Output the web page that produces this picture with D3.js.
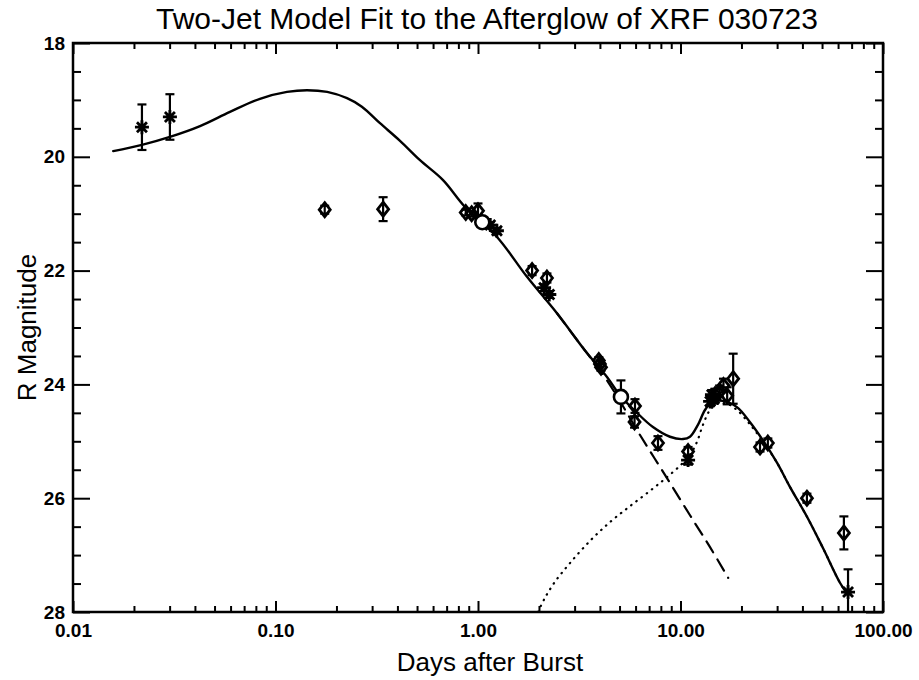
<!DOCTYPE html>
<html>
<head>
<meta charset="utf-8">
<script src="https://cdn.jsdelivr.net/npm/d3@7"></script>
<style>
  body { margin: 0; background: #fff; }
  text { font-family: 'Liberation Sans', Arial, Helvetica, sans-serif; fill: #000; }
</style>
</head>
<body>
<svg id="chart" width="919" height="680"></svg>
<script>
/****************************************************************
    Data (days after burst, R magnitude, error)
/****************************************************************/
const asteriskDays = [0.0219, 0.0301, 1.15, 1.24, 2.12, 2.25, 10.9, 14.0, 14.3, 14.7, 67.2]
const asteriskMag = [19.48, 19.3, 21.2, 21.3, 22.3, 22.42, 25.33, 24.3, 24.18, 24.25, 27.65]
const asteriskErr = [0.4, 0.4, 0.05, 0.05, 0.06, 0.06, 0.08, 0.08, 0.08, 0.08, 0.4]

const diamondDays = [0.175, 0.34, 0.87, 0.93, 1.0, 1.85, 2.19, 3.95, 4.0, 4.05, 5.96, 5.93, 7.74,
  10.9, 14.8, 15.6, 16.3, 17.0, 18.2, 24.7, 27.0, 42.1, 64.1]
const diamondMag = [20.93, 20.92, 20.98, 21.0, 20.95, 22.0, 22.13, 23.58, 23.64, 23.7, 24.38, 24.66, 25.03,
  25.18, 24.18, 24.12, 24.02, 24.2, 23.9, 25.1, 25.03, 26.0, 26.61]
const diamondErr = [0.07, 0.21, 0.05, 0.05, 0.13, 0.08, 0.08, 0.06, 0.06, 0.06, 0.12, 0.1, 0.12,
  0.08, 0.1, 0.1, 0.12, 0.15, 0.44, 0.08, 0.08, 0.08, 0.29]

const circleDays = [1.05, 5.08]
const circleMag = [21.15, 24.22]
const circleErr = [0.05, 0.29]

// two-jet model: total (solid), narrow jet (dashed), wide jet (dotted)
const totalDays = [0.0158, 0.0219, 0.0301, 0.0424, 0.0596, 0.0838, 0.114, 0.143, 0.18, 0.2255, 0.267,
  0.328, 0.412, 0.517, 0.672, 0.862, 1.241, 1.746, 2.455, 3.454, 4.335, 5.02, 6.1, 7.31, 8.87, 10.29,
  11.14, 12.19, 13.21, 14.31, 16.2, 19.0, 22.0, 25.5, 30.0, 34.7, 42.2, 50.6, 61.4, 67.2]
const totalMag = [19.9, 19.79, 19.65, 19.46, 19.21, 18.98, 18.86, 18.83, 18.86, 18.97, 19.12,
  19.41, 19.72, 20.06, 20.41, 20.88, 21.41, 22.11, 22.75, 23.45, 23.87, 24.19, 24.5, 24.75, 24.92, 24.96,
  24.92, 24.71, 24.45, 24.31, 24.29, 24.4, 24.66, 24.98, 25.38, 25.8, 26.33, 26.88, 27.49, 27.7]

const narrowDays = [2.455, 3.454, 4.005, 4.75, 6.31, 8.38, 11.14, 13.99, 17.2]
const narrowMag = [22.75, 23.45, 23.75, 24.15, 24.89, 25.59, 26.3, 26.86, 27.4]

const wideDays = [1.979, 2.142, 2.399, 2.846, 3.574, 4.486, 5.63, 7.07, 8.38, 9.94, 11.14, 12.06, 12.91,
  13.99, 15.31, 16.97, 19.0, 22.0, 25.5, 30.0, 34.7, 42.2, 50.6, 61.4, 67.2]
const wideMag = [28.0, 27.75, 27.47, 27.14, 26.75, 26.42, 26.14, 25.87, 25.66, 25.43, 25.24, 25.01, 24.71,
  24.45, 24.34, 24.34, 24.45, 24.7, 25.0, 25.38, 25.8, 26.33, 26.88, 27.49, 27.7]

const xTickValues = [0.01, 0.1, 1, 10, 100]
const xTickLabels = ['0.01', '0.10', '1.00', '10.00', '100.00']
const yTickValues = [18, 20, 22, 24, 26, 28]

/****************************************************************
    Layout
/****************************************************************/
const settings = {
  left: 73,
  right: 883,
  top: 43,
  bottom: 612,
  majorX: 11, // inward tick length, x axes
  minorX: 6,
  majorY: 17, // inward tick length, y axes
  minorY: 8
}

const svg = d3.select('#chart')

const x = d3.scaleLog().domain([0.01, 100]).range([settings.left, settings.right])
const y = d3.scaleLinear().domain([18, 28]).range([settings.top, settings.bottom])

/****************************************************************
    Axes (ticks point inward on all four sides)
/****************************************************************/
let xMinor = []
for (let d = 0.01; d < 100; d *= 10) {
  for (let k = 2; k < 10; k++) xMinor.push(d * k)
}
let yMinor = d3.range(18.5, 28, 0.5).filter(v => v % 2 !== 0)

const tickStyle = g => {
  g.select('.domain').remove()
  g.selectAll('line').attr('stroke', '#000').attr('stroke-width', 2)
}

svg.append('g')
  .attr('transform', `translate(0,${settings.bottom})`)
  .call(d3.axisBottom(x).tickValues(xTickValues).tickFormat((d, i) => xTickLabels[i])
    .tickSize(-settings.majorX).tickPadding(12))
  .call(tickStyle)
  .selectAll('text')
  .style('font-size', '19px').style('font-weight', 'bold')

svg.append('g')
  .attr('transform', `translate(0,${settings.bottom})`)
  .call(d3.axisBottom(x).tickValues(xMinor).tickFormat('').tickSize(-settings.minorX))
  .call(tickStyle)

svg.append('g')
  .attr('transform', `translate(0,${settings.top})`)
  .call(d3.axisTop(x).tickValues(xTickValues).tickFormat('').tickSize(-settings.majorX))
  .call(tickStyle)

svg.append('g')
  .attr('transform', `translate(0,${settings.top})`)
  .call(d3.axisTop(x).tickValues(xMinor).tickFormat('').tickSize(-settings.minorX))
  .call(tickStyle)

svg.append('g')
  .attr('transform', `translate(${settings.left},0)`)
  .call(d3.axisLeft(y).tickValues(yTickValues).tickFormat(d3.format('d'))
    .tickSize(-settings.majorY).tickPadding(8))
  .call(tickStyle)
  .selectAll('text')
  .style('font-size', '19px').style('font-weight', 'bold')

svg.append('g')
  .attr('transform', `translate(${settings.left},0)`)
  .call(d3.axisLeft(y).tickValues(yMinor).tickFormat('').tickSize(-settings.minorY))
  .call(tickStyle)

svg.append('g')
  .attr('transform', `translate(${settings.right},0)`)
  .call(d3.axisRight(y).tickValues(yTickValues).tickFormat('').tickSize(-settings.majorY))
  .call(tickStyle)

svg.append('g')
  .attr('transform', `translate(${settings.right},0)`)
  .call(d3.axisRight(y).tickValues(yMinor).tickFormat('').tickSize(-settings.minorY))
  .call(tickStyle)

svg.append('rect')
  .attr('x', settings.left)
  .attr('y', settings.top)
  .attr('width', settings.right - settings.left)
  .attr('height', settings.bottom - settings.top)
  .attr('fill', 'none')
  .attr('stroke', '#000')
  .attr('stroke-width', 2.5)

/****************************************************************
    Model curves
/****************************************************************/
svg.append('clipPath').attr('id', 'plotClip')
  .append('rect')
  .attr('x', settings.left).attr('y', settings.top)
  .attr('width', settings.right - settings.left)
  .attr('height', settings.bottom - settings.top)

const plot = svg.append('g').attr('clip-path', 'url(#plotClip)')

const line = d3.line()
  .x(d => x(d[0]))
  .y(d => y(d[1]))
  .curve(d3.curveCatmullRom.alpha(0.5))

let curve = (days, mag, dash, width) => {
  plot.append('path')
    .datum(days.map((d, i) => [d, mag[i]]))
    .attr('d', line)
    .attr('fill', 'none')
    .attr('stroke', '#000')
    .attr('stroke-width', width)
    .attr('stroke-dasharray', dash)
    .attr('stroke-linecap', 'round')
}
curve(wideDays, wideMag, '0.5,6', 2.2)
curve(narrowDays, narrowMag, '13,8', 2.2)
curve(totalDays, totalMag, null, 2.4)

/****************************************************************
    Data points with error bars
/****************************************************************/
let errorBars = (days, mag, err) => {
  days.forEach((d, i) => {
    let cx = x(d)
    let g = plot.append('g').attr('stroke', '#000').attr('stroke-width', 2.2)
    g.append('line').attr('x1', cx).attr('x2', cx)
      .attr('y1', y(mag[i] - err[i])).attr('y2', y(mag[i] + err[i]))
    g.append('line').attr('x1', cx - 4.5).attr('x2', cx + 4.5)
      .attr('y1', y(mag[i] - err[i])).attr('y2', y(mag[i] - err[i]))
    g.append('line').attr('x1', cx - 4.5).attr('x2', cx + 4.5)
      .attr('y1', y(mag[i] + err[i])).attr('y2', y(mag[i] + err[i]))
  })
}
errorBars(diamondDays, diamondMag, diamondErr)
errorBars(asteriskDays, asteriskMag, asteriskErr)
errorBars(circleDays, circleMag, circleErr)

plot.selectAll('.diamond')
  .data(diamondDays.map((d, i) => [d, diamondMag[i]]))
  .join('path')
  .attr('class', 'diamond')
  .attr('transform', d => `translate(${x(d[0])},${y(d[1])})`)
  .attr('d', 'M0,-7L5.5,0L0,7L-5.5,0Z')
  .attr('fill', 'none')
  .attr('stroke', '#000')
  .attr('stroke-width', 2.8)

plot.selectAll('.asterisk')
  .data(asteriskDays.map((d, i) => [d, asteriskMag[i]]))
  .join('path')
  .attr('class', 'asterisk')
  .attr('transform', d => `translate(${x(d[0])},${y(d[1])})`)
  .attr('d', 'M-7,0L7,0M0,-7L0,7M-5,-5L5,5M-5,5L5,-5')
  .attr('fill', 'none')
  .attr('stroke', '#000')
  .attr('stroke-width', 2.8)

plot.selectAll('.circle')
  .data(circleDays.map((d, i) => [d, circleMag[i]]))
  .join('circle')
  .attr('class', 'circle')
  .attr('cx', d => x(d[0]))
  .attr('cy', d => y(d[1]))
  .attr('r', 7)
  .attr('fill', '#fff')
  .attr('stroke', '#000')
  .attr('stroke-width', 2.6)

/****************************************************************
    Titles
/****************************************************************/
svg.append('text')
  .attr('x', 487)
  .attr('y', 29)
  .attr('text-anchor', 'middle')
  .style('font-size', '30px')
  .text('Two-Jet Model Fit to the Afterglow of XRF 030723')

svg.append('text')
  .attr('x', 490)
  .attr('y', 671)
  .attr('text-anchor', 'middle')
  .style('font-size', '26px')
  .text('Days after Burst')

svg.append('text')
  .attr('transform', `translate(36,${(settings.top + settings.bottom) / 2}) rotate(-90)`)
  .attr('text-anchor', 'middle')
  .style('font-size', '26px')
  .text('R Magnitude')
</script>
</body>
</html>
